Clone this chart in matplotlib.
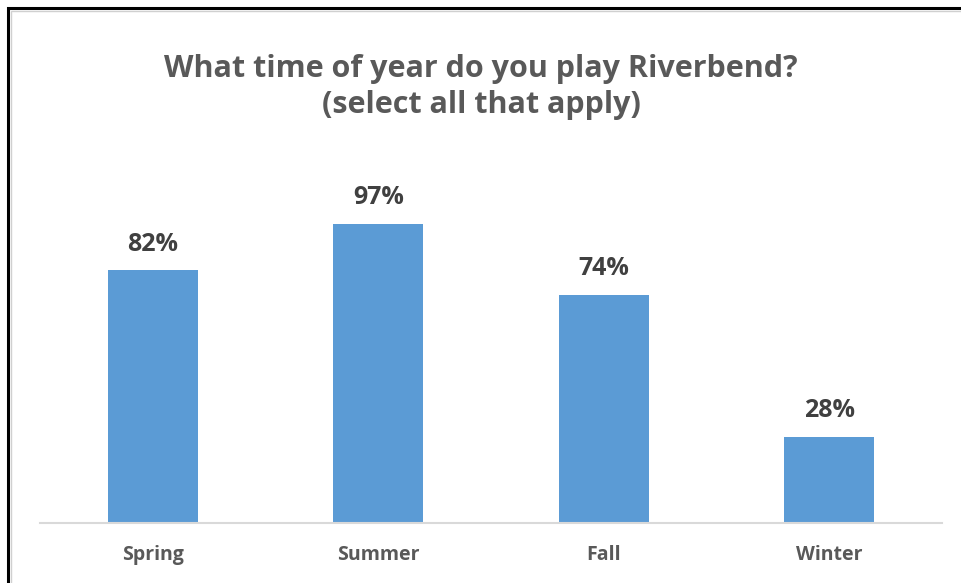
import matplotlib
matplotlib.use("Agg")
import matplotlib.pyplot as plt
from matplotlib.patches import Rectangle

categories = ["Spring", "Summer", "Fall", "Winter"]
values = [82, 97, 74, 28]
value_labels = ["82%", "97%", "74%", "28%"]

title = "What time of year do you play Riverbend?\n(select all that apply)"

W, H = 962, 583
fig = plt.figure(figsize=(W / 100, H / 100), dpi=100)
fig.patch.set_facecolor("white")

# outer frame (black) with thin gray inner line
fig.add_artist(Rectangle((8 / W, -0.1), 1.2, (H - 8) / H + 0.1, transform=fig.transFigure,
                         fill=False, edgecolor="black", linewidth=2.2))
fig.add_artist(Rectangle((11 / W, -0.1), 1.2, (H - 11) / H + 0.1, transform=fig.transFigure,
                         fill=False, edgecolor="#d0d0d0", linewidth=1.0))

ax_left, ax_right = 40 / W, 942 / W
ax_bottom = (H - 523) / H
ymax = 120
ax_top = (H - (523 - ymax * 3.08)) / H
ax = fig.add_axes([ax_left, ax_bottom, ax_right - ax_left, ax_top - ax_bottom])

x = range(len(categories))
bars = ax.bar(x, values, width=0.4, color="#5b9bd5", zorder=2)
ax.set_xlim(-0.5, len(categories) - 0.5)
ax.set_ylim(0, ymax)

for xi, v, lab in zip(x, values, value_labels):
    ax.annotate(lab, (xi, v), xytext=(0, 10), textcoords="offset points",
                ha="center", va="bottom", fontsize=18, fontweight="bold",
                color="#404040", family="Open Sans")

for s in ["top", "right", "left"]:
    ax.spines[s].set_visible(False)
ax.spines["bottom"].set_color("#d9d9d9")
ax.spines["bottom"].set_linewidth(1.5)
ax.set_yticks([])
ax.set_xticks(list(x))
ax.set_xticklabels(categories, fontsize=14, fontweight="bold", color="#595959", family="Open Sans")
ax.tick_params(axis="x", length=0, pad=16)

fig.text(0.5, (H - 87) / H, title, ha="center", va="center", fontsize=22,
         fontweight="bold", color="#595959", family="Open Sans", linespacing=1.22)

fig.savefig("out.png", dpi=100, facecolor="white")
